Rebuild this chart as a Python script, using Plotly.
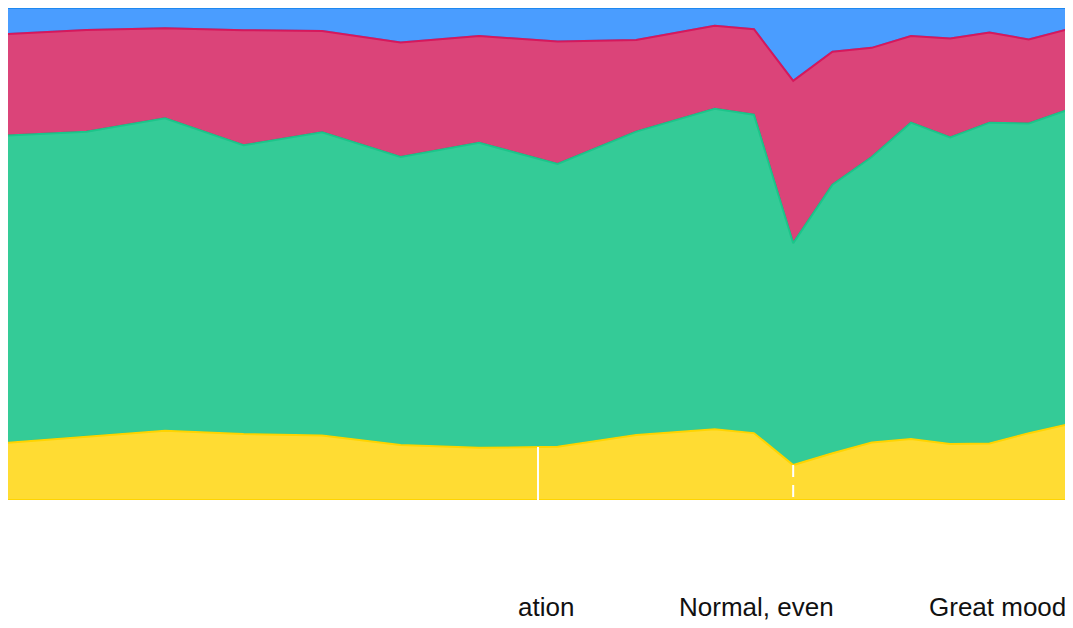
import numpy as np
import plotly.graph_objects as go

# x positions (weeks); first part bi-weekly, then weekly
weeks = [0, 2, 4, 6, 8, 10, 12, 14, 16, 18, 19, 20, 21, 22, 23, 24, 25, 26, 27]

# shares in percent, bottom to top
great_mood = [11.6, 12.9, 14.1, 13.4, 13.1, 11.2, 10.6, 10.8, 13.2, 14.4,
              13.6, 7.1, 9.5, 11.7, 12.4, 11.4, 11.5, 13.6, 15.4]
normal_even = [62.4, 62.0, 63.5, 58.7, 61.7, 58.6, 62.0, 57.5, 61.6, 65.1,
               64.7, 45.1, 54.6, 58.0, 64.3, 62.3, 65.2, 63.0, 63.9]
irritation = [20.6, 20.7, 18.3, 23.4, 20.6, 23.3, 21.7, 24.9, 18.6, 16.9,
              17.4, 33.0, 27.0, 22.2, 17.6, 20.1, 18.3, 17.1, 16.4]
low_mood = [5.3, 4.5, 4.1, 4.5, 4.7, 7.0, 5.7, 6.8, 6.5, 3.6,
            4.3, 14.8, 8.9, 8.1, 5.7, 6.2, 5.0, 6.4, 4.3]

series_names = ["Great mood", "Normal, even", "Irritation", "Low mood"]
fill_colors = ["#FFDC33", "#34CB97", "#DB4479", "#4A9DFF"]
line_colors = ["#FFD400", "#1CC58A", "#D6185C", "#1E88F0"]

# event markers
event_x = [13.5, 20]
event_dash = ["solid", "12px,8px"]

# legend-like labels shown under the chart
label_texts = ["ation", "Normal, even", "Great mood"]

data = [great_mood, normal_even, irritation, low_mood]
arr = np.array(data, dtype=float)
totals = arr.sum(axis=0)
arr = arr / totals * 100.0
cum = np.cumsum(arr, axis=0)
lower = np.vstack([np.zeros(len(weeks)), cum[:-1]])

fig = go.Figure()
x = np.array(weeks, dtype=float)
for i in reversed(range(len(series_names))):
    px = np.concatenate([x, x[::-1]])
    py = np.concatenate([cum[i], lower[i][::-1]])
    fig.add_trace(go.Scatter(
        x=px, y=py, mode="lines", fill="toself",
        fillcolor=fill_colors[i],
        line=dict(color=line_colors[i], width=2),
        name=series_names[i], hoverinfo="skip", showlegend=False,
    ))

for ex, dash in zip(event_x, event_dash):
    ytop = float(np.interp(ex, x, arr[0]))
    fig.add_shape(type="line", x0=ex, x1=ex, y0=ytop, y1=0,
                  xref="x", yref="y",
                  line=dict(color="white", width=2, dash=dash))

label_y = (500 - 607) / 492
fig.add_annotation(text=label_texts[0], x=(576 - 8) / 1060, xref="paper",
                   y=label_y, yref="paper", xanchor="right", yanchor="middle",
                   showarrow=False)
fig.add_annotation(text=label_texts[1], x=(677 - 8) / 1060, xref="paper",
                   y=label_y, yref="paper", xanchor="left", yanchor="middle",
                   showarrow=False)
fig.add_annotation(text=label_texts[2], x=1.0, xref="paper",
                   y=label_y, yref="paper", xanchor="right", yanchor="middle",
                   showarrow=False)

fig.update_layout(
    width=1065, height=620,
    margin=dict(l=0, r=5, t=0, b=128),
    paper_bgcolor="white", plot_bgcolor="white",
    font=dict(family="Liberation Sans, Arial, sans-serif", size=26, color="#111111"),
    xaxis=dict(range=[0, 27], visible=False, fixedrange=True),
    yaxis=dict(range=[0, 100], visible=False, fixedrange=True),
    showlegend=False,
)

fig.write_html("out.html", config={"displayModeBar": False})
